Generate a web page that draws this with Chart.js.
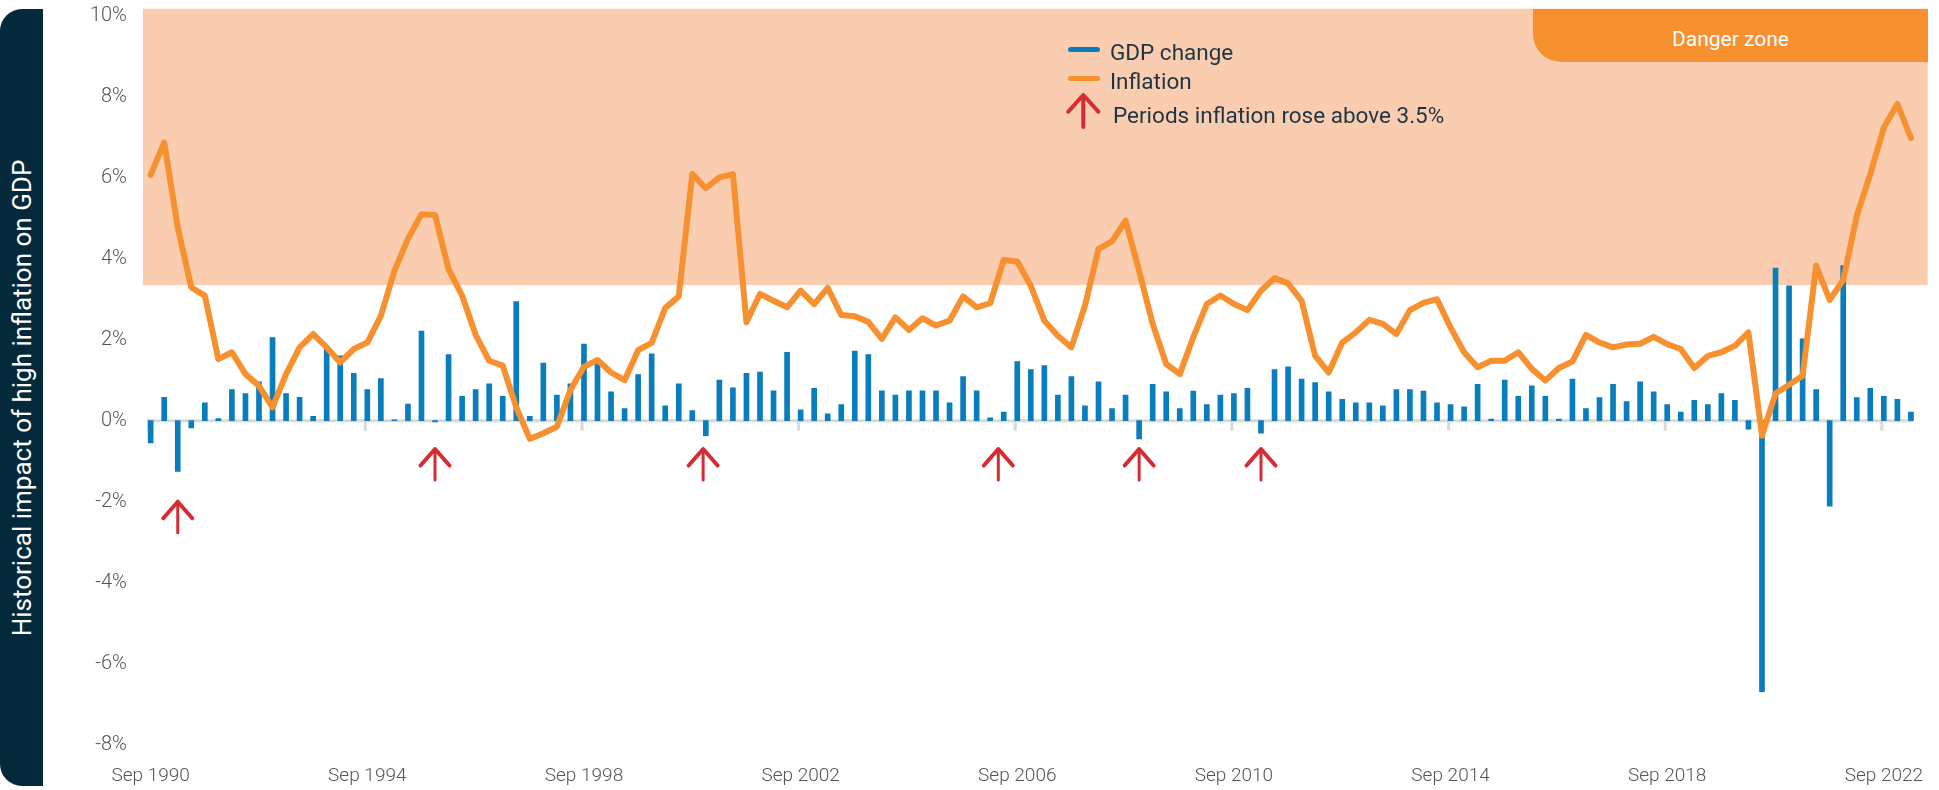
<!DOCTYPE html>
<html>
<head>
<meta charset="utf-8">
<script src="https://cdn.jsdelivr.net/npm/chart.js@4.4.0/dist/chart.umd.min.js"></script>
<style>
  body { margin: 0; width: 1939px; height: 790px; position: relative; overflow: hidden; background: #fff; font-family: Roboto, "Noto Sans", sans-serif; }
  #chart { position: absolute; left: 0; top: 0; }
  .side { position: absolute; left: 0; top: 9px; width: 43px; height: 777px; background: #03293a; border-radius: 22px 0 0 22px; }
  .side span { position: absolute; left: 50%; top: 50%; transform: translate(-50%, -50%) rotate(-90deg); white-space: nowrap; color: #fff; font-size: 26px; }
  .danger { position: absolute; left: 1533px; top: 9px; width: 395px; height: 53px; background: #f7902f; border-bottom-left-radius: 28px; color: #fff; font-size: 21px; text-align: center; line-height: 60px; }
  .leg { position: absolute; color: #1d3541; font-size: 22.5px; line-height: 28px; white-space: nowrap; }
  .sw { position: absolute; width: 32px; height: 5px; border-radius: 3px; }
</style>
</head>
<body>
<canvas id="chart" width="1939" height="790"></canvas>
<div class="side"><span>Historical impact of high inflation on GDP</span></div>
<div class="danger">Danger zone</div>
<div class="sw" style="left:1068px; top:47px; background:#0a7dbd;"></div>
<div class="leg" style="left:1110px; top:38px;">GDP change</div>
<div class="sw" style="left:1068px; top:76px; background:#f7902f;"></div>
<div class="leg" style="left:1110px; top:67px;">Inflation</div>
<svg style="position:absolute; left:1066px; top:92px;" width="36" height="40">
  <path d="M2.3 19.7 L17.3 3 L32.3 19.7 M17.3 3 L17.3 35" fill="none" stroke="#d52b35" stroke-width="4" stroke-linecap="round" stroke-linejoin="round"/>
</svg>
<div class="leg" style="left:1113px; top:101px;">Periods inflation rose above 3.5%</div>
<script>
// quarterly, Sep 1990 .. Mar 2023
const months = ["Mar", "Jun", "Sep", "Dec"];
const quarters = [];
for (let k = 0; k < 131; k++) {
  quarters.push(months[(2 + k) % 4] + " " + (1990 + Math.floor((2 + k) / 4)));
}
const tickEvery = 16;

const gdpChange = [
  -0.55, 0.58, -1.25, -0.18, 0.44, 0.05, 0.77, 0.67, 0.96, 2.05,
  0.67, 0.58, 0.11, 1.77, 1.60, 1.17, 0.77, 1.04, 0.02, 0.41,
  2.21, -0.03, 1.63, 0.60, 0.77, 0.91, 0.60, 2.94, 0.11, 1.42,
  0.63, 0.91, 1.89, 1.42, 0.71, 0.30, 1.14, 1.65, 0.37, 0.91,
  0.25, -0.37, 1.00, 0.81, 1.17, 1.20, 0.74, 1.69, 0.27, 0.80,
  0.17, 0.40, 1.72, 1.63, 0.74, 0.63, 0.74, 0.74, 0.74, 0.44,
  1.09, 0.74, 0.07, 0.21, 1.46, 1.26, 1.36, 0.63, 1.09, 0.37,
  0.96, 0.30, 0.63, -0.45, 0.90, 0.71, 0.30, 0.73, 0.40, 0.63,
  0.67, 0.80, -0.31, 1.26, 1.33, 1.03, 0.94, 0.71, 0.53, 0.44,
  0.44, 0.37, 0.77, 0.77, 0.73, 0.44, 0.40, 0.34, 0.90, 0.04,
  1.00, 0.60, 0.86, 0.60, 0.04, 1.03, 0.30, 0.57, 0.90, 0.47,
  0.96, 0.71, 0.40, 0.21, 0.50, 0.40, 0.67, 0.50, -0.21, -6.69,
  3.77, 3.33, 2.02, 0.77, -2.11, 3.83, 0.57, 0.80, 0.60, 0.53,
  0.21
];

const inflation = [
  6.07, 6.87, 4.77, 3.29, 3.09, 1.52, 1.69, 1.15, 0.86, 0.33,
  1.15, 1.81, 2.14, 1.81, 1.44, 1.77, 1.93, 2.59, 3.70, 4.49,
  5.10, 5.08, 3.74, 3.09, 2.12, 1.48, 1.36, 0.33, -0.45, -0.31,
  -0.15, 0.76, 1.33, 1.50, 1.19, 1.00, 1.74, 1.92, 2.78, 3.07,
  6.09, 5.74, 6.01, 6.09, 2.43, 3.13, 2.96, 2.80, 3.21, 2.88,
  3.28, 2.61, 2.58, 2.44, 2.02, 2.55, 2.24, 2.53, 2.35, 2.47,
  3.07, 2.80, 2.90, 3.97, 3.93, 3.33, 2.47, 2.10, 1.81, 2.84,
  4.24, 4.43, 4.94, 3.70, 2.39, 1.40, 1.15, 2.06, 2.88, 3.09,
  2.88, 2.73, 3.21, 3.52, 3.39, 2.96, 1.60, 1.19, 1.93, 2.18,
  2.49, 2.39, 2.14, 2.73, 2.91, 3.00, 2.30, 1.69, 1.32, 1.48,
  1.48, 1.69, 1.28, 0.99, 1.30, 1.46, 2.12, 1.93, 1.81, 1.88,
  1.90, 2.07, 1.89, 1.77, 1.30, 1.60, 1.69, 1.85, 2.18, -0.37,
  0.67, 0.89, 1.11, 3.83, 2.98, 3.47, 5.06, 6.09, 7.24, 7.82,
  6.98
];

// red arrows: category position and tip value
const arrowAt = [2, 21, 40.8, 62.6, 73, 82];
const arrowTip = [-2.0, -0.7, -0.7, -0.7, -0.7, -0.7];

const dangerLevel = 3.35;

// where the plot box should sit on the page
const area = { top: 15.7, bottom: 744.7, left: 143.9, right: 1917.7 };
let yAxisWidth = area.left;
let xAxisHeight = 790 - area.bottom;

const backdrop = {
  id: "backdrop",
  beforeDatasetsDraw(chart) {
    const { ctx, chartArea, scales } = chart;
    const yb = scales.y.getPixelForValue(dangerLevel);
    const top = chartArea.top - 7;
    ctx.save();
    ctx.fillStyle = "#fbcdb0";
    ctx.fillRect(chartArea.left - 1, top, chartArea.right + 11 - chartArea.left, yb - top);

    // zero line with tick stubs
    const y0 = scales.y.getPixelForValue(0);
    ctx.strokeStyle = "#d9d9d9";
    ctx.lineWidth = 3;
    ctx.beginPath();
    ctx.moveTo(scales.x.getPixelForValue(0) - 4, y0);
    ctx.lineTo(scales.x.getPixelForValue(quarters.length - 1) + 2, y0);
    ctx.stroke();
    for (let i = 0; i < quarters.length; i += tickEvery) {
      const x = scales.x.getPixelForValue(i) - 2;
      ctx.beginPath();
      ctx.moveTo(x, y0);
      ctx.lineTo(x, y0 + 10);
      ctx.stroke();
    }
    ctx.restore();
  },
  afterDatasetsDraw(chart) {
    const { ctx, scales } = chart;
    ctx.save();
    ctx.strokeStyle = "#d52b35";
    ctx.lineCap = "round";
    ctx.lineJoin = "round";
    arrowAt.forEach((pos, i) => {
      const x = scales.x.getPixelForValue(pos);
      const y = scales.y.getPixelForValue(arrowTip[i]);
      ctx.lineWidth = 4;
      ctx.beginPath();
      ctx.moveTo(x - 14.5, y + 16.5);
      ctx.lineTo(x, y);
      ctx.lineTo(x + 14.5, y + 16.5);
      ctx.stroke();
      ctx.lineWidth = 3;
      ctx.beginPath();
      ctx.moveTo(x, y);
      ctx.lineTo(x, y + 31);
      ctx.stroke();
    });
    ctx.restore();
  }
};

const tickFont = { family: "Roboto", size: 20, weight: "300" };

const chart = new Chart(document.getElementById("chart"), {
  type: "bar",
  data: {
    labels: quarters,
    datasets: [
      {
        type: "line",
        label: "Inflation",
        data: inflation,
        borderColor: "#f7902f",
        borderWidth: 6,
        pointRadius: 0,
        tension: 0,
        borderJoinStyle: "round",
        borderCapStyle: "round",
        order: 0
      },
      {
        type: "bar",
        label: "GDP change",
        data: gdpChange,
        backgroundColor: "#0a7dbd",
        barThickness: 5,
        order: 1
      }
    ]
  },
  options: {
    responsive: false,
    animation: false,
    devicePixelRatio: 1,
    layout: { padding: { top: area.top, right: 1939 - area.right, left: 0, bottom: 0 } },
    plugins: { legend: { display: false }, tooltip: { enabled: false } },
    scales: {
      x: {
        grid: { display: false, drawTicks: false },
        border: { display: false },
        ticks: {
          autoSkip: false,
          maxRotation: 0,
          padding: 20,
          color: "#555",
          font: { family: "Roboto", size: 19, weight: "300" },
          callback: (v, i) => (i % tickEvery === 0 ? quarters[i] : "")
        },
        afterFit: (s) => { s.height = xAxisHeight; }
      },
      y: {
        min: -8,
        max: 10,
        grid: { display: false, drawTicks: false },
        border: { display: false },
        ticks: {
          stepSize: 2,
          padding: 17,
          color: "#555",
          font: tickFont,
          callback: (v) => v + "%"
        },
        afterFit: (s) => {
          s.width = yAxisWidth;
          // tick padding would otherwise push the plot top down
          s.paddingTop = 8;
          s.paddingBottom = 8;
        }
      }
    }
  },
  plugins: [backdrop]
});

// nudge the layout so the plot box lands where the reference has it
const pad = chart.options.layout.padding;
const ca = chart.chartArea;
pad.top += area.top - ca.top;
pad.right += ca.right - area.right;
yAxisWidth += area.left - ca.left;
xAxisHeight += ca.bottom - area.bottom;
chart.update();
</script>
</body>
</html>
